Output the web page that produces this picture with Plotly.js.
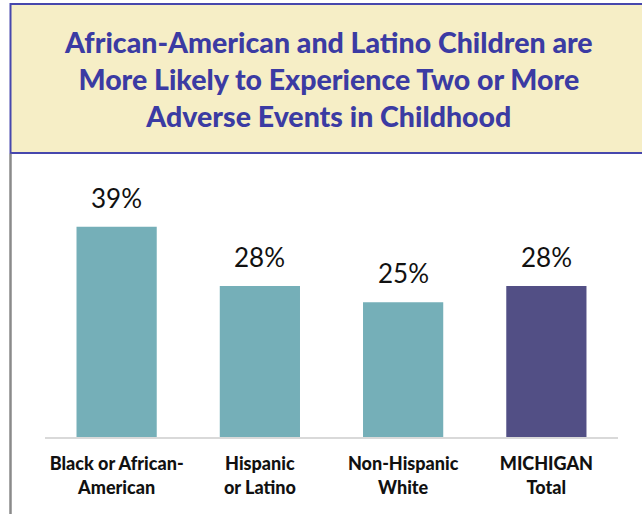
<!DOCTYPE html>
<html>
<head>
<meta charset="utf-8">
<script src="https://cdn.plot.ly/plotly-3.0.1.min.js"></script>
<style>html,body{margin:0;padding:0;background:#fff;}#chart{width:642px;height:514px;}</style>
</head>
<body>
<div id="chart"></div>
<script>
const categories = ["Black or African-<br>American", "Hispanic<br>or Latino", "Non-Hispanic<br>White", "MICHIGAN<br>Total"];
const values = [39, 28, 25, 28];
const barColors = ["#75afb8", "#75afb8", "#75afb8", "#524f85"];
const titleText = "African-American and Latino Children are<br>More Likely to Experience Two or More<br>Adverse Events in Childhood";

const font = "Lato, 'Open Sans', sans-serif";

const trace = {
  type: "bar",
  x: categories,
  y: values,
  marker: {color: barColors, line: {width: 0}},
  hoverinfo: "skip"
};

const valueLabels = categories.map((c, i) => ({
  x: c, y: values[i], xref: "x", yref: "y",
  text: values[i] + "%", showarrow: false,
  yanchor: "bottom", yshift: 11,
  font: {family: font, size: 26, color: "#111"}
}));

const layout = {
  width: 642, height: 514,
  margin: {l: 45, r: 24, t: 153, b: 77},
  paper_bgcolor: "#fff", plot_bgcolor: "#fff",
  showlegend: false,
  bargap: 0.44,
  xaxis: {
    type: "category",
    showline: true, linecolor: "#d9d9d9", linewidth: 1.5,
    ticks: "", showgrid: false, zeroline: false,
    tickfont: {family: font, size: 18, color: "#111", weight: 900},
    ticklabelstandoff: 10,
    fixedrange: true
  },
  yaxis: {
    range: [0, 52.7], visible: false, showgrid: false, zeroline: false, fixedrange: true
  },
  shapes: [
    {type: "rect", xref: "paper", yref: "paper", x0: -0.0602, x1: 1.06, y0: 1.0, y1: 1.5246,
     fillcolor: "#f6eec6", line: {color: "#4747ad", width: 2}, layer: "below"},
    {type: "line", xref: "paper", yref: "paper", x0: -0.0602, x1: -0.0602, y0: 0.997, y1: -0.3,
     line: {color: "#8a8a8a", width: 2.5}}
  ],
  annotations: [
    {xref: "paper", yref: "paper", x: 0.494, y: 1.261, xanchor: "center", yanchor: "middle",
     text: titleText, showarrow: false, align: "center",
     font: {family: font, size: 28.5, color: "#3b3ba3", weight: 900}}
  ].concat(valueLabels)
};

Plotly.newPlot("chart", [trace], layout, {displayModeBar: false, staticPlot: true});
</script>
</body>
</html>
